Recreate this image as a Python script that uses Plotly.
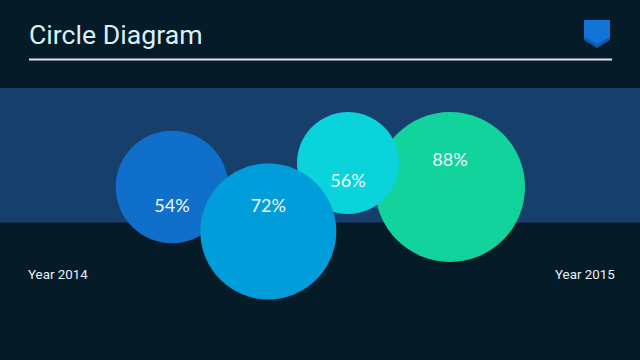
import plotly.graph_objects as go

# Data
values = [88, 56, 54, 72]
labels = [f"{v}%" for v in values]
x_values = [450, 348, 172, 268.3]
y_values = [187, 163, 187, 231.5]
diameters = [150, 102, 112.6, 136]
label_y = [161, 182, 207, 207]
colors = ["#12d39c", "#0bd3dc", "#106fcb", "#019ddb"]
year_labels = ["Year 2014", "Year 2015"]
title_text = "Circle Diagram"

BG = "#061b28"
BAND = "#173f6b"

fig = go.Figure()
fig.add_trace(go.Scatter(
    x=x_values, y=y_values, mode="markers",
    marker=dict(size=diameters, color=colors, line=dict(width=0), opacity=1),
    hoverinfo="skip", showlegend=False,
))
fig.add_trace(go.Scatter(
    x=x_values, y=label_y, mode="text", text=labels,
    textposition="middle center",
    textfont=dict(family="Lato", size=18, color="#eef9fc"),
    hoverinfo="skip", showlegend=False,
))

fig.add_shape(type="rect", x0=0, x1=640, y0=88, y1=222.5, fillcolor=BAND,
              line_width=0, layer="below")
fig.add_shape(type="rect", x0=29, x1=612, y0=58.5, y1=60.5, fillcolor="#dfe3e4",
              line_width=0, layer="below")
fig.add_shape(type="path", path="M584,20 L610,20 L610,40 L597,48 L584,40 Z",
              fillcolor="#0c5cac", line_width=0, layer="below")
fig.add_shape(type="path", path="M584,20 L610,20 L610,37 L597,44 L584,37 Z",
              fillcolor="#1274d6", line_width=0, layer="below")

fig.add_annotation(x=27, y=35, text=title_text, showarrow=False, xanchor="left",
                   yanchor="middle", font=dict(family="Roboto", size=26.67, color="#d8eff8"))
fig.add_annotation(x=26, y=274, text=year_labels[0], showarrow=False, xanchor="left",
                   yanchor="middle", font=dict(family="Roboto", size=13.33, color="#e8f2f6"))
fig.add_annotation(x=616.5, y=274, text=year_labels[1], showarrow=False, xanchor="right",
                   yanchor="middle", font=dict(family="Roboto", size=13.33, color="#e8f2f6"))

fig.update_layout(
    width=640, height=360, margin=dict(l=0, r=0, t=0, b=0),
    paper_bgcolor=BG, plot_bgcolor=BG, showlegend=False,
    xaxis=dict(range=[0, 640], visible=False, fixedrange=True),
    yaxis=dict(range=[360, 0], visible=False, fixedrange=True),
)
fig.write_html("out.html", config=dict(displayModeBar=False),
               post_script="document.body.style.margin='0';document.body.style.overflow='hidden';document.body.style.background='#061b28';")
